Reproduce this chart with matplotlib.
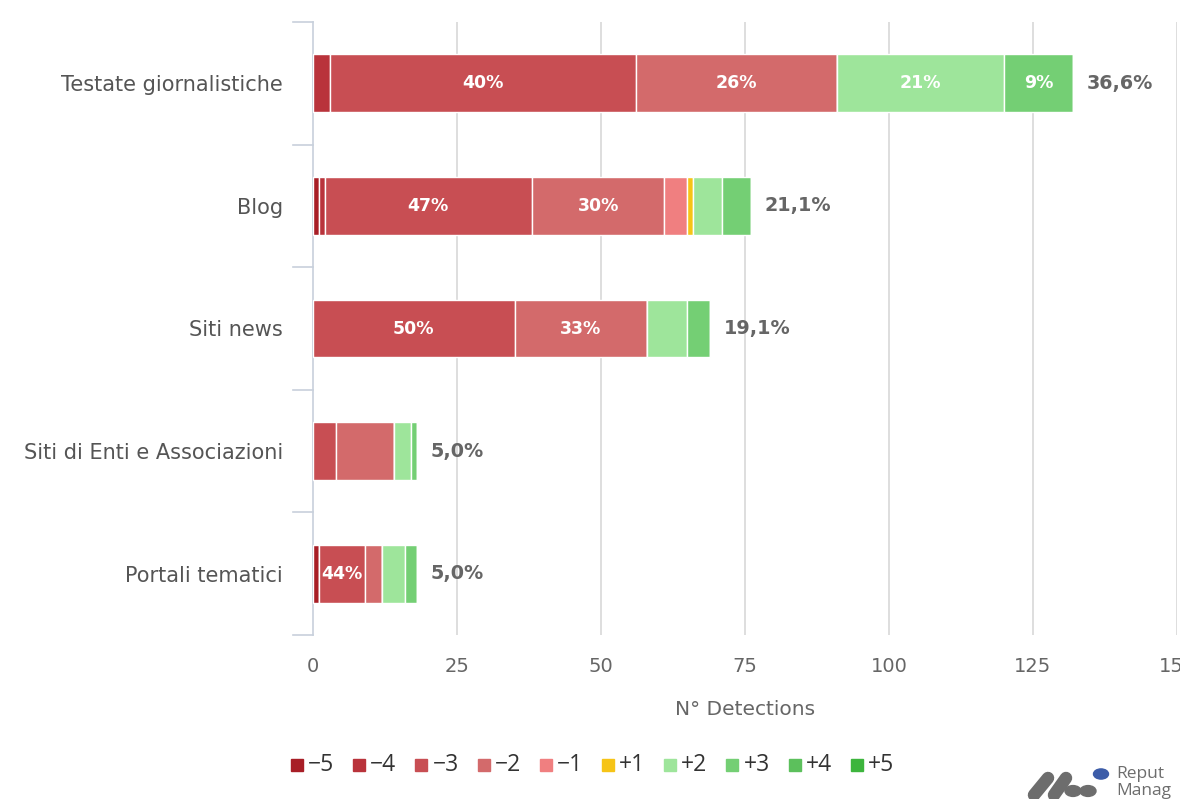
import matplotlib
matplotlib.use("Agg")
import matplotlib.pyplot as plt
from matplotlib.patches import Circle, Rectangle
from matplotlib.lines import Line2D

categories = ["Testate giornalistiche", "Blog", "Siti news",
              "Siti di Enti e Associazioni", "Portali tematici"]
series_names = ["−5", "−4", "−3", "−2", "−1", "+1", "+2", "+3", "+4", "+5"]
series_colors = ["#a81e26", "#b9333b", "#c84e53", "#d36a6b", "#f07f80",
                 "#f6c417", "#9ee59b", "#74cf74", "#5cc05c", "#3db53d"]

# values per series (order of categories)
v_m5 = [0, 1, 0, 0, 1]
v_m4 = [3, 1, 0, 0, 0]
v_m3 = [53, 36, 35, 4, 8]
v_m2 = [35, 23, 23, 10, 3]
v_m1 = [0, 4, 0, 0, 0]
v_p1 = [0, 1, 0, 0, 0]
v_p2 = [29, 5, 7, 3, 4]
v_p3 = [12, 5, 4, 1, 2]
v_p4 = [0, 0, 0, 0, 0]
v_p5 = [0, 0, 0, 0, 0]
series_values = [v_m5, v_m4, v_m3, v_m2, v_m1, v_p1, v_p2, v_p3, v_p4, v_p5]

# data labels shown inside segments (series index, category index, text)
seg_labels = [(2, 0, "40%"), (3, 0, "26%"), (6, 0, "21%"), (7, 0, "9%"),
              (2, 1, "47%"), (3, 1, "30%"),
              (2, 2, "50%"), (3, 2, "33%"),
              (2, 4, "44%")]
total_labels = ["36,6%", "21,1%", "19,1%", "5,0%", "5,0%"]
x_ticks = [0, 25, 50, 75, 100, 125, 150]

W, H = 1180, 799
fig = plt.figure(figsize=(W / 100, H / 100), dpi=100)
ax = fig.add_axes([313 / W, 1 - 635 / H, (1177 - 313) / W, (635 - 22) / H])

font = "DejaVu Sans"
grey = "#666666"

lefts = [0.0] * len(categories)
for name, vals, col in zip(series_names, series_values, series_colors):
    ax.barh(range(len(categories)), vals, left=lefts, height=0.47,
            color=col, edgecolor="white", linewidth=1.0, zorder=3)
    lefts = [l + v for l, v in zip(lefts, vals)]

starts = {}
acc = [0.0] * len(categories)
for si, vals in enumerate(series_values):
    for ci, v in enumerate(vals):
        starts[(si, ci)] = acc[ci]
        acc[ci] += v

for si, ci, txt in seg_labels:
    x = starts[(si, ci)] + series_values[si][ci] / 2
    ax.text(x, ci, txt, ha="center", va="center", color="white",
            fontsize=12.5, fontweight="bold", family=font, zorder=5)

for ci, txt in enumerate(total_labels):
    ax.text(acc[ci] + 2.4, ci, txt, ha="left", va="center", color=grey,
            fontsize=13.8, fontweight="bold", family=font, zorder=5)

ax.set_xlim(0, 150)
ax.set_ylim(len(categories) - 0.5, -0.5)
ax.set_xticks(x_ticks)
ax.set_xticklabels([str(t) for t in x_ticks], family=font, fontsize=14, color=grey)
ax.set_yticks(range(len(categories)))
ax.set_yticklabels(categories, family=font, fontsize=15, color="#555555")
ax.tick_params(axis="y", length=0, pad=21.5)
ax.tick_params(axis="x", length=0, pad=16)

# grid lines
for t in x_ticks[1:]:
    ax.axvline(t, color="#d8d8d8", linewidth=1.2, zorder=1)
for s in ["top", "right", "bottom"]:
    ax.spines[s].set_visible(False)
ax.spines["left"].set_color("#c8d0dc")
ax.spines["left"].set_linewidth(1.2)

# category boundary ticks on the y axis
for b in range(len(categories) + 1):
    yb = b - 0.5
    ax.plot([-3.5, 0], [yb, yb], color="#c8d0dc", linewidth=1.2,
            clip_on=False, zorder=2)

ax.set_xlabel("N° Detections", family=font, fontsize=14.5, color=grey, labelpad=17)

# legend (manual layout, one entry per series)
x0, step, ly = 291, 62.2, 765
for i, (name, col) in enumerate(zip(series_names, series_colors)):
    xs = x0 + i * step
    fig.patches.append(Rectangle((xs / W, 1 - (ly + 6) / H), 12 / W, 12 / H,
                                 transform=fig.transFigure, color=col))
    fig.text((xs + 17) / W, 1 - ly / H, name, fontsize=16.5, color="#333333",
             va="center", ha="left", family="Open Sans")

# logo (partially cut off at the right edge)
fig.patches.append(Circle((1101 / W, 1 - 774 / H), 7.5 / W, transform=fig.transFigure,
                          color="#3c5ca8"))
for (xa, ya, xb, yb) in [(1034, 795, 1048, 778), (1054, 795, 1066, 778)]:
    fig.lines.append(Line2D([xa / W, xb / W], [1 - ya / H, 1 - yb / H],
                            transform=fig.transFigure, color="#6d6d6d",
                            linewidth=9, solid_capstyle="round"))
for cx, cy in [(1073, 791), (1088, 791)]:
    fig.patches.append(Circle((cx / W, 1 - cy / H), 8 / W, transform=fig.transFigure,
                              color="#6d6d6d"))
fig.text(1116 / W, 1 - 774 / H, "Reput", fontsize=12.5, color="#6d6d6d",
         va="center", ha="left", family="Open Sans")
fig.text(1116 / W, 1 - 791 / H, "Manag", fontsize=12.5, color="#6d6d6d",
         va="center", ha="left", family="Open Sans")

fig.savefig("out.png", dpi=100, facecolor="white")
